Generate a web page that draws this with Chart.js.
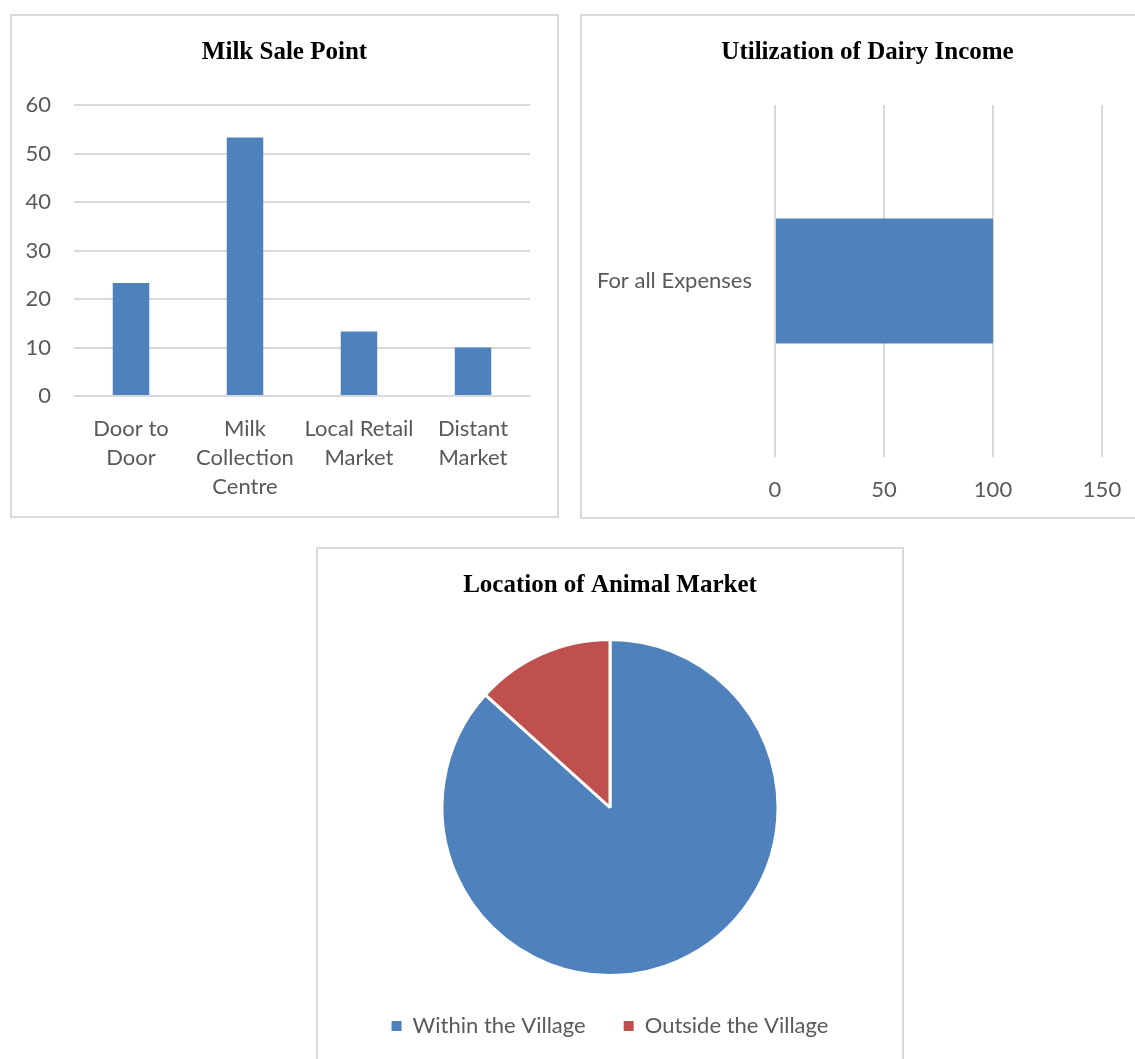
<!DOCTYPE html>
<html>
<head>
	<meta charset="utf-8">
	<title>Dairy charts</title>
	<script src="https://cdn.jsdelivr.net/npm/chart.js"></script>
<style>
body {
	margin: 0;
	width: 1135px;
	height: 1059px;
	overflow: hidden;
	position: relative;
	background: #fff;
}
.box {
	position: absolute;
	border: 2px solid #d9d9d9;
	box-sizing: border-box;
	background: #fff;
}
.box canvas {
	display: block;
}
#box1 { left: 10px; top: 14px; width: 549px; height: 504px; }
#box2 { left: 580px; top: 14px; width: 575px; height: 505px; }
#box3 { left: 316px; top: 547px; width: 588px; height: 530px; }
</style>
</head>
<body>

<div class="box" id="box1"><canvas id="saleChart" width="545" height="500"></canvas></div>
<div class="box" id="box2"><canvas id="incomeChart" width="571" height="501"></canvas></div>
<div class="box" id="box3"><canvas id="marketChart" width="584" height="526"></canvas></div>

<script>
// milk sale point (%)
const salePoints = [['Door to', 'Door'], ['Milk', 'Collection', 'Centre'], ['Local Retail', 'Market'], ['Distant', 'Market']];
const saleValues = [23.3, 53.3, 13.3, 10];
const saleTicks = [0, 10, 20, 30, 40, 50, 60];

// utilization of dairy income
const incomeUses = ['For all Expenses'];
const incomeValues = [100];
const incomeTicks = [0, 50, 100, 150];

// location of animal market
const marketPlaces = ['Within the Village', 'Outside the Village'];
const marketValues = [86.7, 13.3];

const BLUE = '#4F81BD';
const RED = '#C0504D';
const GRID = '#d9d9d9';
const TEXT = '#595959';
const tickFont = { family: 'Lato', size: 22, lineHeight: 1.32 };
const titleFont = { family: 'Liberation Serif', size: 25, weight: 'bold', lineHeight: 1.2 };

Chart.defaults.animation = false;
Chart.defaults.color = TEXT;

function titleOpts(text, top, bottom) {
	return {
		display: true,
		text: text,
		color: '#000',
		font: titleFont,
		padding: { top: top, bottom: bottom }
	};
}

// empty axis on the right, only there to leave a margin without moving the title
function spacer(width) {
	return {
		type: 'linear',
		position: 'right',
		grid: { display: false },
		border: { display: false },
		ticks: { display: false },
		afterFit: s => { s.width = width; }
	};
}

new Chart(document.getElementById('saleChart'), {
	type: 'bar',
	data: {
		labels: salePoints,
		datasets: [{
			data: saleValues,
			backgroundColor: BLUE,
			barPercentage: 0.32,
			categoryPercentage: 1
		}]
	},
	options: {
		responsive: false,
		layout: { padding: 0 },
		plugins: {
			legend: { display: false },
			tooltip: { enabled: false },
			title: titleOpts('Milk Sale Point', 22, 37)
		},
		scales: {
			x: {
				grid: { display: false },
				border: { display: false },
				ticks: { font: tickFont, color: TEXT, padding: 10, maxRotation: 0 },
				afterFit: s => { s.height = 120; }
			},
			y: {
				min: 0,
				max: 60,
				afterBuildTicks: s => { s.ticks = saleTicks.map(v => ({ value: v })); },
				grid: { color: GRID, lineWidth: 2, drawTicks: false },
				border: { display: false },
				ticks: { font: tickFont, color: TEXT, padding: 23 },
				afterFit: s => { s.width = 62; }
			},
			pad: spacer(27)
		}
	}
});

new Chart(document.getElementById('incomeChart'), {
	type: 'bar',
	data: {
		labels: incomeUses,
		datasets: [{
			data: incomeValues,
			backgroundColor: BLUE,
			barPercentage: 0.355,
			categoryPercentage: 1
		}]
	},
	options: {
		responsive: false,
		indexAxis: 'y',
		layout: { padding: 0 },
		plugins: {
			legend: { display: false },
			tooltip: { enabled: false },
			title: titleOpts('Utilization of Dairy Income', 22, 37)
		},
		scales: {
			x: {
				min: 0,
				max: 150,
				afterBuildTicks: s => { s.ticks = incomeTicks.map(v => ({ value: v })); },
				grid: { color: GRID, lineWidth: 2, drawTicks: false },
				border: { display: false },
				ticks: { font: tickFont, color: TEXT, padding: 18 },
				afterFit: s => { s.height = 60; }
			},
			y: {
				grid: { display: false },
				border: { display: false },
				ticks: { font: tickFont, color: TEXT, padding: 15 },
				afterFit: s => { s.width = 193; }
			},
			pad: spacer(51)
		}
	}
});

new Chart(document.getElementById('marketChart'), {
	type: 'pie',
	data: {
		labels: marketPlaces,
		datasets: [{
			data: marketValues,
			backgroundColor: [BLUE, RED],
			borderColor: '#fff',
			borderWidth: 3
		}]
	},
	options: {
		responsive: false,
		layout: { padding: { left: 0, right: 0, top: 0, bottom: 28 } },
		plugins: {
			tooltip: { enabled: false },
			title: titleOpts('Location of Animal Market', 22, 37),
			legend: {
				position: 'bottom',
				labels: {
					font: tickFont,
					color: TEXT,
					boxWidth: 10,
					boxHeight: 10,
					padding: 38,
					generateLabels: chart => Chart.overrides.pie.plugins.legend.labels.generateLabels(chart)
						.map(l => Object.assign(l, { lineWidth: 0, strokeStyle: l.fillStyle }))
				}
			}
		}
	}
});
</script>
</body>
</html>
